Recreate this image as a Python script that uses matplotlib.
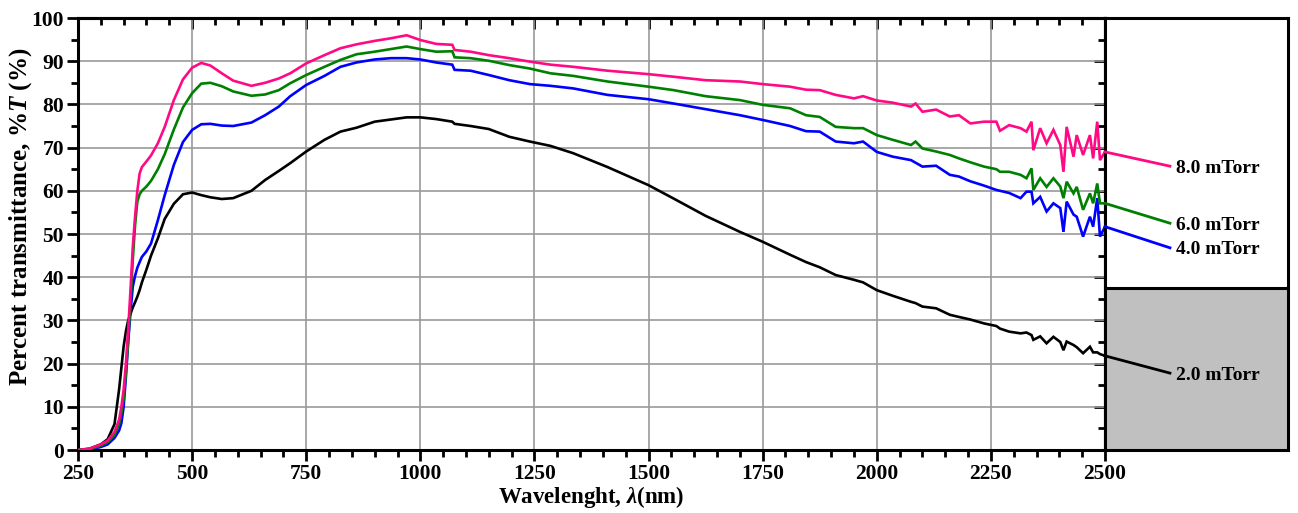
import matplotlib
matplotlib.use("Agg")
import matplotlib.pyplot as plt
from matplotlib.ticker import MultipleLocator

plt.rcParams['font.family'] = ['Liberation Serif', 'DejaVu Serif']
plt.rcParams['font.weight'] = 'bold'
plt.rcParams['mathtext.fontset'] = 'custom'
plt.rcParams['mathtext.rm'] = 'Liberation Serif:bold'
plt.rcParams['mathtext.it'] = 'Liberation Serif:italic:bold'
plt.rcParams['mathtext.bf'] = 'Liberation Serif:bold'

# ---------------- data ----------------
wavelength = [250, 275, 300, 315, 330, 340, 345, 350, 355, 360, 365, 370, 375, 380, 385, 390,
              400, 410, 425, 440, 460, 480, 500, 520, 540, 565, 590, 630, 660, 690, 715, 750,
              790, 825, 860, 900, 935, 970, 1000, 1035, 1070, 1075, 1110, 1150, 1195, 1240,
              1285, 1335, 1410, 1500, 1555, 1625, 1700, 1750, 1810, 1845, 1875, 1910, 1950,
              1970, 2000, 2035, 2075, 2085, 2100, 2130, 2160, 2180, 2205, 2235, 2262, 2270,
              2290, 2315, 2328, 2339, 2343, 2358, 2372, 2387, 2402, 2409, 2416, 2431, 2438,
              2452, 2467, 2474, 2483, 2489, 2500]

t_8mTorr = [0, 0.3, 1.3, 2.2, 4.2, 7, 10, 14, 20, 28, 37, 47, 54, 60, 64, 65.5,
            66.8, 68.2, 71, 74.8, 81, 85.8, 88.5, 89.6, 89, 87.2, 85.5, 84.3, 85, 86, 87.2, 89.5,
            91.4, 93, 93.9, 94.7, 95.3, 96, 94.9, 94, 93.8, 92.6, 92.2, 91.4, 90.7, 89.9,
            89.2, 88.7, 87.8, 87, 86.4, 85.6, 85.3, 84.7, 84.1, 83.4, 83.3, 82.2, 81.4,
            81.9, 80.9, 80.4, 79.5, 80.2, 78.3, 78.8, 77.2, 77.5, 75.6, 76, 76, 73.9,
            75.2, 74.5, 73.7, 76, 69.4, 74.5, 71, 74.1, 70.6, 64.4, 74.8, 67.9, 72.9,
            68.3, 72.9, 67.5, 76, 67.1, 69]

t_6mTorr = [0, 0.2, 1.0, 1.8, 3.5, 6, 8.5, 12, 18, 25.5, 34, 44, 52, 57.5, 59.2, 60,
            61, 62.3, 65, 68.5, 74.2, 79.3, 82.6, 84.8, 85, 84.2, 83, 82, 82.3, 83.3, 84.9, 86.8,
            88.7, 90.3, 91.6, 92.2, 92.8, 93.4, 92.8, 92.2, 92.3, 90.9, 90.7, 90.1, 89.1, 88.3,
            87.2, 86.6, 85.3, 84.1, 83.3, 81.9, 81, 79.9, 79.1, 77.5, 77.1, 74.8, 74.5,
            74.5, 72.9, 71.8, 70.6, 71.4, 69.8, 69.1, 68.3, 67.5, 66.6, 65.6, 65, 64.4,
            64.4, 63.7, 62.9, 65.2, 60.2, 62.9, 60.9, 62.9, 61, 58.3, 62.1, 59.4, 60.9,
            55.6, 59.4, 57.1, 61.7, 57.1, 57.1]

t_4mTorr = [0, 0.1, 0.7, 1.3, 2.8, 4.5, 6.2, 10, 17, 25, 32, 37.8, 40.3, 42.2, 43.5, 44.7,
            46, 47.8, 53.2, 59, 66, 71.3, 74.1, 75.4, 75.5, 75.1, 75, 75.8, 77.5, 79.5, 81.9, 84.5,
            86.6, 88.7, 89.7, 90.4, 90.7, 90.7, 90.4, 89.7, 89.2, 88, 87.8, 86.8, 85.6, 84.7,
            84.3, 83.7, 82.2, 81.2, 80.2, 78.9, 77.5, 76.4, 75, 73.8, 73.7, 71.4, 71,
            71.4, 69, 67.9, 67.1, 66.5, 65.6, 65.8, 63.7, 63.3, 62.2, 61.2, 60.2, 60,
            59.5, 58.3, 59.8, 59.8, 57.1, 58.6, 55.2, 57.1, 56, 50.5, 57.5, 54.5, 54,
            49.4, 54, 51.7, 58.3, 49.4, 51.7]

t_2mTorr = [0, 0.3, 1.3, 2.5, 6, 14, 19, 24, 27.5, 30, 31.5, 33, 34.2, 35.5, 37, 38.8,
            41.8, 45, 49, 53.5, 57, 59.2, 59.6, 59, 58.5, 58.1, 58.3, 60, 62.5, 64.6, 66.4, 69.1,
            71.8, 73.7, 74.6, 76, 76.5, 77, 77, 76.6, 76, 75.5, 75, 74.3, 72.5, 71.4,
            70.4, 68.7, 65.5, 61.3, 58.2, 54.2, 50.5, 48.2, 45.2, 43.5, 42.3, 40.5, 39.4,
            38.8, 37, 35.7, 34.3, 34, 33.2, 32.8, 31.3, 30.8, 30.2, 29.3, 28.7, 28.1,
            27.4, 27, 27.2, 26.6, 25.5, 26.3, 24.7, 26.2, 25, 23.1, 25.1, 24.3, 23.8,
            22.4, 23.9, 22.6, 22.6, 22.2, 21.8]

series_labels = ["2.0 mTorr", "4.0 mTorr", "6.0 mTorr", "8.0 mTorr"]
series_values = [t_2mTorr, t_4mTorr, t_6mTorr, t_8mTorr]
series_colors = ["#000000", "#0000ff", "#008000", "#ff0a84"]
label_y = [17.8, 46.8, 52.5, 65.7]   # where each leader line ends (label position)

# ---------------- figure ----------------
W, H = 1298, 513
fig = plt.figure(figsize=(W / 100, H / 100), dpi=100)
ax = fig.add_axes([78 / W, 1 - 450 / H, (1105 - 78) / W, (450 - 18) / H])
ax2 = fig.add_axes([1105 / W, 1 - 450 / H, (1288 - 1105) / W, (450 - 18) / H])

for vals, col in zip(series_values, series_colors):
    ax.plot(wavelength, vals, color=col, lw=1.9, solid_joinstyle='miter', zorder=3)

ax.set_xlim(250, 2500)
ax.set_ylim(0, 100)
ax.xaxis.set_major_locator(MultipleLocator(250))
ax.xaxis.set_minor_locator(MultipleLocator(50))
ax.yaxis.set_major_locator(MultipleLocator(10))
ax.yaxis.set_minor_locator(MultipleLocator(5))
ax.grid(True, which='major', color='#9a9a9a', lw=1.2, zorder=0)
for s in ax.spines.values():
    s.set_linewidth(2.2)
ax.tick_params(axis='both', which='major', direction='out', length=8, width=2,
               labelsize=15.5, pad=2)
ax.tick_params(axis='both', which='minor', direction='out', length=5, width=2)
secx = ax.secondary_xaxis('top')
secx.xaxis.set_major_locator(MultipleLocator(250))
secx.xaxis.set_minor_locator(MultipleLocator(50))
secx.tick_params(which='major', direction='in', length=8, width=2, labeltop=False)
secx.tick_params(which='minor', direction='in', length=5, width=2)
secx.spines['top'].set_linewidth(2.2)
secy = ax.secondary_yaxis('right')
secy.yaxis.set_major_locator(MultipleLocator(10))
secy.yaxis.set_minor_locator(MultipleLocator(5))
secy.tick_params(which='major', direction='in', length=8, width=2, labelright=False)
secy.tick_params(which='minor', direction='in', length=5, width=2)
secy.spines['right'].set_linewidth(2.2)
ax.tick_params(top=False, right=False)
for lab in ax.get_xticklabels() + ax.get_yticklabels():
    lab.set_fontweight('bold')

ax.set_xlabel(r"Wavelenght, $\it{\lambda}$(nm)", fontsize=16.5, fontweight='bold', labelpad=0)
ax.set_ylabel(r"Percent transmittance, %$\it{T}$ (%)", fontsize=18, fontweight='bold')
ax.yaxis.set_label_coords(-0.043, 0.54)

# ---------------- right label panel ----------------
ax2.set_xlim(0, 1)
ax2.set_ylim(0, 100)
ax2.set_xticks([])
ax2.set_yticks([])
for s in ax2.spines.values():
    s.set_linewidth(2.2)
ax2.axhspan(0, 37.5, color='#c0c0c0', zorder=0)
ax2.axhline(37.5, color='black', lw=2.2, zorder=1)

for vals, col, lab, ly in zip(series_values, series_colors, series_labels, label_y):
    ax2.plot([0, 0.355], [vals[-1], ly], color=col, lw=2, zorder=3, clip_on=False)
    ax2.text(0.39, ly - 0.5, lab, fontsize=14, fontweight='bold', va='center', ha='left')

fig.savefig("out.png", dpi=100)
